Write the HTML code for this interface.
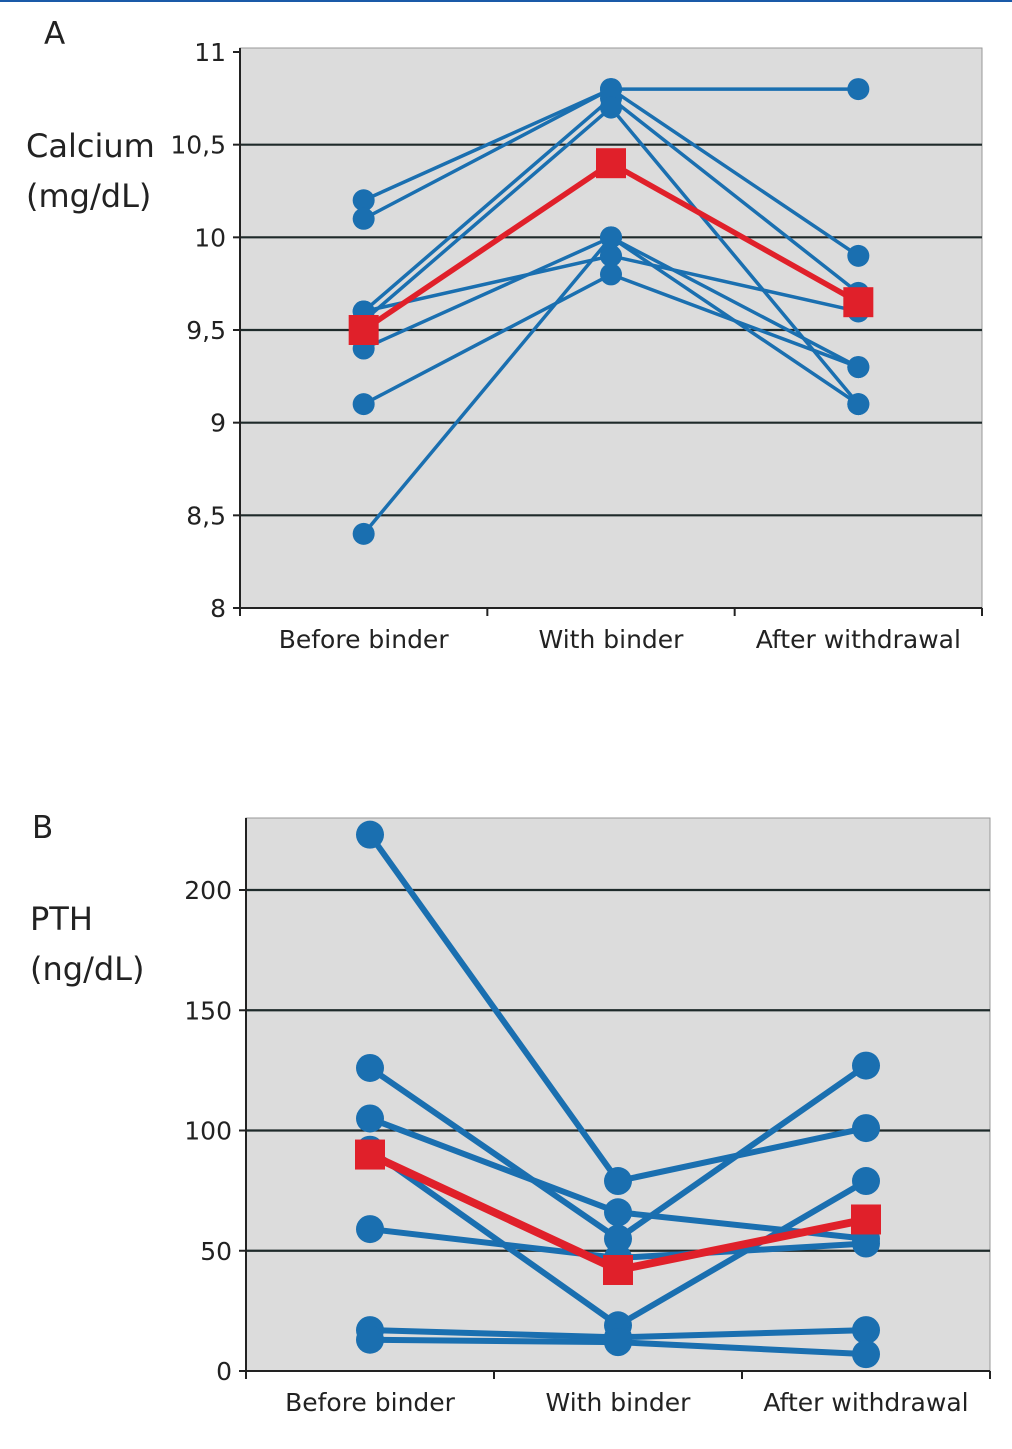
<!DOCTYPE html>
<html><head><meta charset="utf-8"><style>
body{margin:0;background:#fff;width:1012px;height:1445px;overflow:hidden;font-family:"DejaVu Sans","Liberation Sans",sans-serif;}
svg text{fill:#222;}
</style></head><body>
<svg width="1012" height="1445">
<line x1="0" y1="1" x2="1012" y2="1" stroke="#1a5aa8" stroke-width="2"/>
<g id="chartA"></g>
<g id="chartB"></g>
</svg>
<script>
const categories = ["Before binder","With binder","After withdrawal"];
const calciumSeries = [
 [10.2,10.8,10.8],[10.1,10.8,9.9],[9.6,10.75,9.7],[9.55,10.7,9.1],
 [9.6,9.9,9.6],[9.1,9.8,9.3],[8.4,10.0,9.1],[9.4,10.0,9.3]];
const calciumMean = [9.5,10.4,9.65];
const calciumTicks = [8,8.5,9,9.5,10,10.5,11];
const calciumTickLabels = ["8","8,5","9","9,5","10","10,5","11"];
const pthSeries = [
 [223,79,101],[126,55,127],[105,66,55],[92,19,79],
 [59,47,53],[17,14,17],[13,12,7]];
const pthMean = [90,42,63];
const pthTicks = [0,50,100,150,200];
const pthTickLabels = ["0","50","100","150","200"];

const NS="http://www.w3.org/2000/svg";
function mk(parent,tag,attrs,txt){const e=document.createElementNS(NS,tag);for(const k in attrs)e.setAttribute(k,attrs[k]);if(txt!==undefined)e.textContent=txt;parent.appendChild(e);return e;}

function draw(g,o){
 const y=v=>o.y0-(v-o.vmin)/(o.vmax-o.vmin)*(o.y0-o.yTop);
 const step=(o.x1-o.x0)/3;
 const x=i=>o.x0+step*(i+0.5);
 const bg=mk(g,'rect',{x:o.x0,y:o.top,width:o.x1-o.x0,height:o.y0-o.top,fill:'#dcdcdc',stroke:'#999','stroke-width':1});
 
 o.ticks.forEach((t,i)=>{
  if(t>o.vmin && y(t)>o.top+8){const l=mk(g,'line',{x1:o.x0,x2:o.x1,y1:y(t),y2:y(t),stroke:'#1e2a2a','stroke-width':2.2});
   }
  const tk=mk(g,'line',{x1:o.x0-7,x2:o.x0,y1:y(t),y2:y(t),stroke:'#222','stroke-width':2});
  
  const tl=mk(g,'text',{x:o.x0-14,y:y(t)+9,'text-anchor':'end','font-size':25},o.labels[i]);
  
 });
 const ax=mk(g,'line',{x1:o.x0,x2:o.x0,y1:o.top,y2:o.y0+1,stroke:'#222','stroke-width':2});
 
 const bx=mk(g,'line',{x1:o.x0-7,x2:o.x1,y1:o.y0,y2:o.y0,stroke:'#222','stroke-width':2});
 
 for(let i=0;i<=3;i++){const t=mk(g,'line',{x1:o.x0+step*i,x2:o.x0+step*i,y1:o.y0,y2:o.y0+8,stroke:'#222','stroke-width':2});
  }
 categories.forEach((c,i)=>{const t=mk(g,'text',{x:x(i),y:o.y0+40,'text-anchor':'middle','font-size':25},c);
  });
 o.series.forEach(s=>{
  const p=mk(g,'polyline',{points:s.map((v,i)=>x(i)+','+y(v)).join(' '),fill:'none',stroke:'#1a6fb0','stroke-width':o.lw});
  
  s.forEach((v,i)=>{const c=mk(g,'circle',{cx:x(i),cy:y(v),r:o.r,fill:'#1a6fb0'});
   });
 });
 const m=mk(g,'polyline',{points:o.mean.map((v,i)=>x(i)+','+y(v)).join(' '),fill:'none',stroke:'#e0202a','stroke-width':o.lw+2});
 
 o.mean.forEach((v,i)=>{const r=mk(g,'rect',{x:x(i)-15,y:y(v)-15,width:30,height:30,fill:'#e0202a'});
  });
 const pl=mk(g,'text',{x:o.lx,y:o.ly,'font-size':31},o.panel);
 
 o.title.forEach((tt,i)=>{const t=mk(g,'text',{x:o.tx,y:o.ty+i*50,'font-size':32},tt);
  });
}
draw(document.getElementById('chartA'),{x0:240,x1:982,top:48,y0:608,yTop:52,vmin:8,vmax:11,ticks:calciumTicks,labels:calciumTickLabels,
 series:calciumSeries,mean:calciumMean,lw:3.5,r:11,panel:"A",lx:44,ly:44,title:["Calcium","(mg/dL)"],tx:26,ty:157});
draw(document.getElementById('chartB'),{x0:246,x1:990,top:818,y0:1371,yTop:890,vmin:0,vmax:200,ticks:pthTicks,labels:pthTickLabels,
 series:pthSeries,mean:pthMean,lw:6,r:14,panel:"B",lx:32,ly:838,title:["PTH","(ng/dL)"],tx:30,ty:930});
</script>
</body></html>
